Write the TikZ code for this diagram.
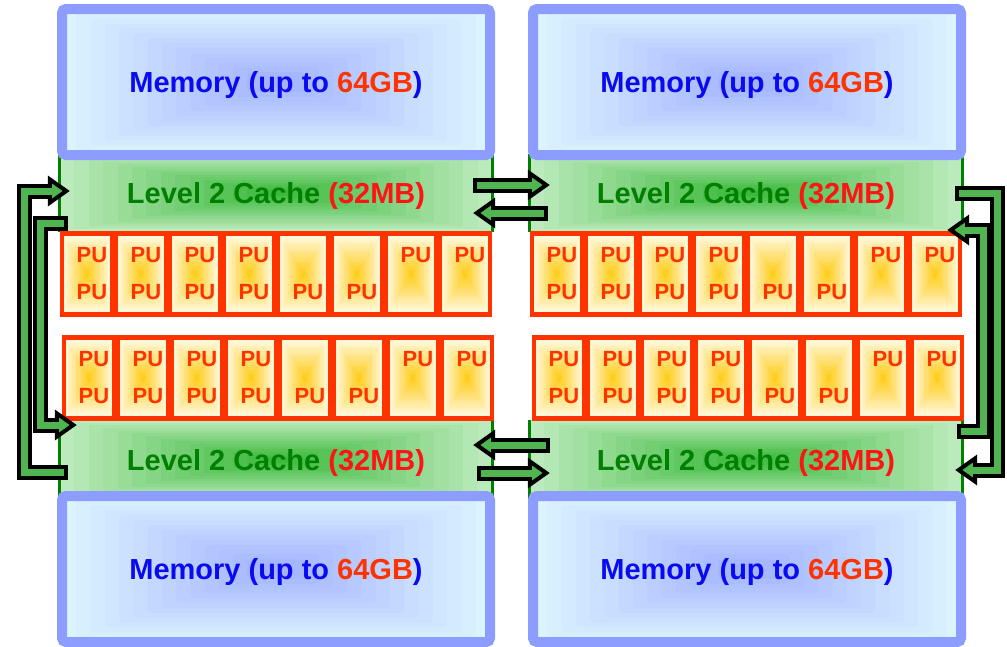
\documentclass[tikz,border=0pt]{standalone}
\usepackage{fontspec}
\setmainfont{Liberation Sans}
\usetikzlibrary{calc,arrows.meta}

\definecolor{memline}{RGB}{140,156,255}
\definecolor{memedge}{RGB}{220,244,255}
\definecolor{memcore}{RGB}{162,178,255}
\definecolor{memtext}{RGB}{10,10,240}
\definecolor{hot}{RGB}{255,51,0}
\definecolor{cacheedge}{RGB}{188,234,188}
\definecolor{cachecore}{RGB}{60,185,60}
\definecolor{cacheline}{RGB}{0,128,0}
\definecolor{cachetext}{RGB}{0,128,0}
\definecolor{sizered}{RGB}{255,20,20}
\definecolor{puedge}{RGB}{255,250,230}
\definecolor{pucore}{RGB}{255,205,30}
\definecolor{busgreen}{RGB}{80,180,80}

% two PU slots per core, either one may stay empty
\newcommand\pupair[2]{\hspace*{10pt}\makebox[32pt]{\vphantom{PU}#1}\\\hspace*{10pt}\makebox[32pt]{\vphantom{PU}#2}}

\tikzset{
    nested/.style 2 args={
        path picture={
            \foreach \k in {0,...,14}{
                \pgfmathtruncatemacro\mix{100*\k/14}
                \fill[#2!\mix!#1]
                    ($(path picture bounding box.south west)!\k/30!(path picture bounding box.north east)$)
                    rectangle
                    ($(path picture bounding box.north east)!\k/30!(path picture bounding box.south west)$);
            }
        }
    },
    memory/.style={
        rectangle,
        rounded corners=4pt,
        draw=memline, line width=10pt,
        minimum width=428pt,
        minimum height=146pt,
        nested={memedge}{memcore},
        text=memtext,
        font=\fontsize{29}{34}\selectfont\bfseries,
        text depth=0pt
    },
    cache/.style={
        rectangle,
        minimum width=432pt,
        minimum height=78pt,
        nested={cacheedge}{cachecore},
        text=cachetext,
        font=\fontsize{29}{34}\selectfont\bfseries,
        text depth=0pt
    },
    cacheside/.style={draw=cacheline, line width=3pt},
    pucell/.style={
        rectangle,
        draw=hot, line width=4.5pt,
        minimum width=50pt,
        minimum height=81pt,
        inner sep=0pt,
        nested={puedge}{pucore},
        text=hot,
        align=center,
        font=\fontsize{22}{37}\selectfont\bfseries
    },
    bus/.style={
        draw=black, line width=15pt, line join=miter,
        -{Triangle[length=22pt, width=30pt, line width=4pt, fill=busgreen]},
        postaction={draw=busgreen, line width=7pt, line join=miter, -,
                    shorten <=4pt, shorten >=15pt}
    }
}

\begin{document}
\begin{tikzpicture}[x=1pt, y=-1pt]
    \useasboundingbox (0,0) rectangle (1007,646);

    % level 2 caches
    \node[cache] (ltc) at (276,193) {Level 2 Cache \textcolor{sizered}{(32MB)}};
    \node[cache] (rtc) at (746,193) {Level 2 Cache \textcolor{sizered}{(32MB)}};
    \node[cache, minimum height=80pt] (lbc) at (276,460) {Level 2 Cache \textcolor{sizered}{(32MB)}};
    \node[cache, minimum height=80pt] (rbc) at (746,460) {Level 2 Cache \textcolor{sizered}{(32MB)}};
    \foreach \c in {ltc,rtc,lbc,rbc}
        \draw[cacheside] (\c.north west) -- (\c.south west) (\c.north east) -- (\c.south east);

    % memories
    \node[memory] (ltm) at (276,82) {Memory (up to \textcolor{hot}{64GB})};
    \node[memory] (rtm) at (747,82) {Memory (up to \textcolor{hot}{64GB})};
    \node[memory] (lbm) at (276,569) {Memory (up to \textcolor{hot}{64GB})};
    \node[memory] (rbm) at (747,569) {Memory (up to \textcolor{hot}{64GB})};

    % rows of cores
    \foreach \row/\x/\y in {ta/87/274, tb/89/378, tc/557/274, td/559/378}
        \foreach \i/\tp/\bt in {1/PU/PU,2/PU/PU,3/PU/PU,4/PU/PU,5//PU,6//PU,7/PU/,8/PU/}
            \node[pucell] (\row\i) at ({\x+54*(\i-1)},\y) {\pupair{\tp}{\bt}};

    % links between the caches
    \draw[bus] ([shift={(-19,-8)}]ltc.east) -- ([shift={(20,-8)}]rtc.west);
    \draw[bus] ([shift={(18,20)}]rtc.west) -- ([shift={(-19,20)}]ltc.east);
    \draw[bus] ([shift={(20,-15)}]rbc.west) -- ([shift={(-19,-15)}]lbc.east);
    \draw[bus] ([shift={(-15,13)}]lbc.east) -- ([shift={(20,13)}]rbc.west);

    % left side loops
    \draw[bus] ([shift={(8,12)}]lbc.west) -- ++(-43,0) |- ([shift={(10,-2)}]ltc.west);
    \draw[bus] ([shift={(8,30)}]ltc.west) -- ++(-27,0) |- ([shift={(17,-35)}]lbc.west);

    % right side loops
    \draw[bus] ([shift={(-7,0)}]rtc.east) -- ++(42,0) |- ([shift={(-7,10)}]rbc.east);
    \draw[bus] ([shift={(-5,-29)}]rbc.east) -- ++(26,0) |- ([shift={(-15,37)}]rtc.east);
\end{tikzpicture}
\end{document}
